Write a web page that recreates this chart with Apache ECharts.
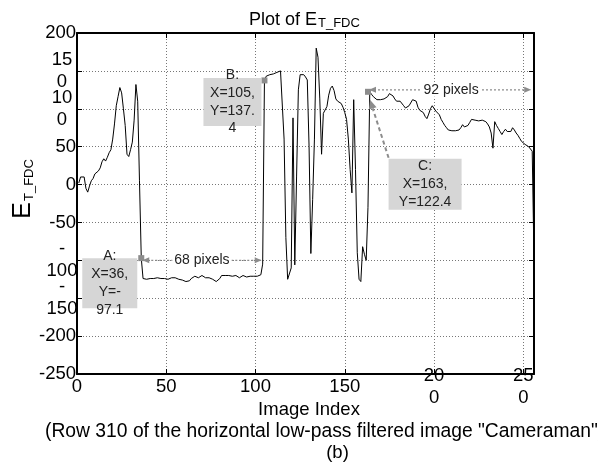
<!DOCTYPE html>
<html><head><meta charset="utf-8">
<script src="https://cdn.jsdelivr.net/npm/echarts@6/dist/echarts.min.js"></script>
<style>html,body{margin:0;padding:0;background:#fff}#c{width:598px;height:471px}</style>
</head><body><div id="c"></div>
<script>
// ---- data ----
const xStart = 1; // image index of first sample
const yValues = [
 2,10,11,10,-5,-10,-2,5,8,14,15,18,22,30,34,31,36,42,46,60,
 80,104,116,128,121,100,78,40,37,46,56,85,132,110,5,-97.1,
 -124,-126,-125,-124,-124,-123,-124,-124,-123,-124,-124,-123,-124,-124,-125,-124,-123,-122,-123,-124,
 -125,-124,-126,-127,-128,-129,-127,-124,-122,-121,-122,-123,-121,-120,-121,-123,-124,-123,-123,-125,
 -126,-128,-129,-124,-120,-118,-120,-121,-120,-119,-121,-122,-120,-121,-123,-121,-120,-121,-122,-121,
 -121,-121,-121,-121,-121,-121,-119,-105,
 137.4,143,144,145,146,146,147,148,149,150,151,
 60,-70,-125,-127,-110,88,-106,10,125,145,146,145,142,138,50,-91,-20,60,180,168,113,40,94,96,103,118,127,130,124,113,110,109,107,102,95,86,60,20,-11,112,20,-90,-125,-128,-82,-92,-100,-30,
 122.4,
 119,116,114,112,111,112,114,113,111,116,120,122,117,113,110,108,110,108,104,101,
 100,104,106,112,113,110,102,98,100,95,90,87,93,100,104,102,97,95,92,86,
 82,78,75,72,71,71,72,71,72,72,75,79,76,74,78,82,86,84,85,83,
 84,86,85,86,83,80,76,68,48,83,78,74,70,66,70,73,70,68,70,75,
 72,68,65,61,57,55,53,52,50,48,44,45,-240
];
const xTickValues = [0, 50, 100, 150, 200, 250];
const xTickLabels = ['0', '50', '100', '150', '20\n0', '25\n0'];
const yTickValues = [-250, -200, -150, -100, -50, 0, 50, 100, 150, 200];
const yTickLabels = ['-250', '-200', '-\n150', '-\n100', '-50', '0', '50', '10\n0', '15\n0', '200'];
const tipX = [36, 105, 163];
const tipY = [-97.1, 137.4, 122.4];
const tipTexts = ['A:\nX=36,\nY=-\n97.1', 'B:\nX=105,\nY=137.\n4', 'C:\nX=163,\nY=122.4'];
const spanFrom = [36, 163];
const spanTo = [104, 255];
const spanY = [-100, 125];
const spanTexts = ['68 pixels', '92 pixels'];

const FONT = "'Liberation Sans', Arial, Helvetica, sans-serif";
const seriesData = yValues.map((v, i) => [i + xStart, v]);

function fmtLabel(values, labels) {
  return function (v) {
    const i = values.indexOf(Math.round(v));
    if (i < 0) return '';
    const s = labels[i];
    if (s.indexOf('\n') >= 0) return s.split('\n').map(t => '{m|' + t + '}').join('\n');
    return s;
  };
}

const chart = echarts.init(document.getElementById('c'), null, {renderer: 'canvas'});
const axisLineStyle = {color: '#000', width: 2};
const option = {
  animation: false,
  backgroundColor: '#fff',
  grid: {left: 77, top: 33, width: 457, height: 341, show: false},
  xAxis: [{
    type: 'value', min: 0, max: 256, interval: 50, position: 'bottom',
    axisLine: {show: true, onZero: false, lineStyle: axisLineStyle},
    axisTick: {show: true, inside: true, length: 5, lineStyle: {color: '#000'}},
    splitLine: {show: true, lineStyle: {color: '#777', type: [1, 2], width: 1}},
    axisLabel: {
      color: '#000', fontFamily: FONT, fontSize: 18.5, margin: 13, verticalAlign: 'middle',
      lineHeight: 22, showMaxLabel: false,
      formatter: fmtLabel(xTickValues, xTickLabels),
      rich: {m: {fontFamily: FONT, fontSize: 18.5, lineHeight: 22, color: '#000'}}
    }
  }, {
    type: 'value', min: 0, max: 256, interval: 50, position: 'top',
    axisLine: {show: true, onZero: false, lineStyle: axisLineStyle},
    axisTick: {show: true, inside: true, length: 5, lineStyle: {color: '#000'}},
    splitLine: {show: false}, axisLabel: {show: false}
  }],
  yAxis: [{
    type: 'value', min: -250, max: 200, interval: 50, position: 'left',
    axisLine: {show: true, onZero: false, lineStyle: axisLineStyle},
    axisTick: {show: true, inside: true, length: 5, lineStyle: {color: '#000'}},
    splitLine: {show: true, lineStyle: {color: '#777', type: [1, 2], width: 1}},
    axisLabel: {
      color: '#000', fontFamily: FONT, fontSize: 18.5, margin: 1, lineHeight: 22,
      formatter: fmtLabel(yTickValues, yTickLabels),
      rich: {m: {fontFamily: FONT, fontSize: 18.5, lineHeight: 22, width: 28, align: 'center', color: '#000'}}
    }
  }, {
    type: 'value', min: -250, max: 200, interval: 50, position: 'right',
    axisLine: {show: true, onZero: false, lineStyle: axisLineStyle},
    axisTick: {show: true, inside: true, length: 5, lineStyle: {color: '#000'}},
    splitLine: {show: false}, axisLabel: {show: false}
  }],
  series: [{
    type: 'line', data: seriesData, xAxisIndex: 0, yAxisIndex: 0,
    showSymbol: false, symbol: 'none', clip: true,
    lineStyle: {color: '#000', width: 1},
    markPoint: {
      symbol: 'rect', symbolSize: 6, silent: true,
      itemStyle: {color: '#8c8c8c'}, label: {show: false},
      data: tipX.map((x, i) => ({coord: [x, tipY[i]]}))
    },
    z: 3
  }]
};
chart.setOption(option);

function P(x, y) { return chart.convertToPixel({xAxisIndex: 0, yAxisIndex: 0}, [x, y]); }
const G = [];
const GRAY = '#8c8c8c';
// spans with double arrows
for (let i = 0; i < spanFrom.length; i++) {
  const a = P(spanFrom[i], spanY[i]), b = P(spanTo[i], spanY[i]);
  const y = a[1];
  G.push({type: 'line', shape: {x1: a[0] + 2, y1: y, x2: b[0] - 2, y2: y}, style: {stroke: GRAY, lineWidth: 1.2, lineDash: [2, 2]}, z: 10});
  G.push({type: 'polygon', shape: {points: [[a[0] + 1, y], [a[0] + 8, y - 3], [a[0] + 8, y + 3]]}, style: {fill: GRAY}, z: 10});
  G.push({type: 'polygon', shape: {points: [[b[0] - 1, y], [b[0] - 8, y - 3], [b[0] - 8, y + 3]]}, style: {fill: GRAY}, z: 10});
  G.push({type: 'text', x: (a[0] + b[0]) / 2 + (i === 1 ? 1 : 0), y: y, style: {text: spanTexts[i], font: '14px ' + FONT, fill: '#222', align: 'center', verticalAlign: 'middle', backgroundColor: '#fff', padding: [0, 2]}, z: 11});
}
// data tip boxes
const boxOff = [[-59, 0, 55, 50], [-61, -2.5, 58, 48], [20.6, 67, 73, 51]];
for (let i = 0; i < tipX.length; i++) {
  const p = P(tipX[i], tipY[i]);
  const o = boxOff[i];
  const bx = p[0] + o[0], by = p[1] + o[1];
  G.push({type: 'rect', shape: {x: bx, y: by, width: o[2], height: o[3]}, style: {fill: '#d6d6d6'}, z: 12});
  G.push({type: 'text', x: bx + o[2] / 2, y: by + o[3] / 2, style: {text: tipTexts[i], font: '14px ' + FONT, fill: '#222', align: 'center', verticalAlign: 'middle', lineHeight: 17.7}, z: 13});
  if (i === 2) {
    const sx = bx, sy = by - 1, ex = p[0] + 2, ey = p[1] + 8;
    const ang = Math.atan2(ey - sy, ex - sx);
    const L = 9, W = 4;
    const bx2 = ex - L * Math.cos(ang), by2 = ey - L * Math.sin(ang);
    G.push({type: 'line', shape: {x1: sx, y1: sy, x2: bx2, y2: by2}, style: {stroke: GRAY, lineWidth: 2, lineDash: [4, 3]}, z: 12});
    G.push({type: 'polygon', shape: {points: [[ex, ey], [bx2 - W * Math.sin(ang), by2 + W * Math.cos(ang)], [bx2 + W * Math.sin(ang), by2 - W * Math.cos(ang)]]}, style: {fill: GRAY}, z: 12});
  }
}
// titles
G.push({type: 'text', x: 317, y: 20, style: {text: 'Plot of E', font: '18px ' + FONT, fill: '#000', align: 'right', verticalAlign: 'middle'}, z: 20});
G.push({type: 'text', x: 318, y: 23, style: {text: 'T_FDC', font: '13px ' + FONT, fill: '#000', align: 'left', verticalAlign: 'middle'}, z: 20});
G.push({type: 'group', x: 0, y: 190, rotation: Math.PI / 2, children: [
  {type: 'text', x: -12, y: 23.5, style: {text: 'E', font: '25px ' + FONT, fill: '#000', align: 'right', verticalAlign: 'middle'}},
  {type: 'text', x: -11, y: 29, style: {text: 'T_FDC', font: '13px ' + FONT, fill: '#000', align: 'left', verticalAlign: 'middle'}}
], z: 20});
G.push({type: 'text', x: 309, y: 410, style: {text: 'Image Index', font: '18.5px ' + FONT, fill: '#000', align: 'center', verticalAlign: 'middle'}, z: 20});
G.push({type: 'text', x: 45, y: 432, style: {text: '(Row 310 of the horizontal low-pass filtered image "Cameraman")', font: '19.3px ' + FONT, fill: '#000', align: 'left', verticalAlign: 'middle'}, z: 20});
G.push({type: 'text', x: 337.5, y: 453, style: {text: '(b)', font: '18.5px ' + FONT, fill: '#000', align: 'center', verticalAlign: 'middle'}, z: 20});

chart.setOption({graphic: {elements: G}});
</script>
</body></html>
